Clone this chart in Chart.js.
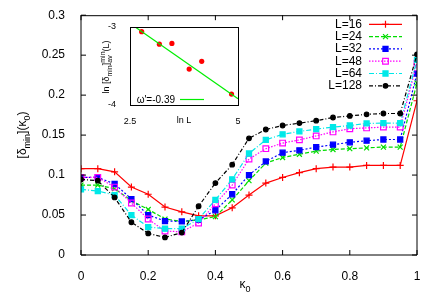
<!DOCTYPE html>
<html><head><meta charset="utf-8">
<script src="https://cdn.jsdelivr.net/npm/chart.js@4/dist/chart.umd.min.js"></script>
<style>
html,body{margin:0;padding:0;background:#fff;}
#wrap{position:relative;width:436px;height:306px;overflow:hidden;}
#main{position:absolute;left:0;top:0;}
#inset{position:absolute;left:90px;top:15px;}
</style>
</head><body>
<div id="wrap"><canvas id="main" width="436" height="306"></canvas><canvas id="inset" width="160" height="115"></canvas></div>
<script>
// ---- data ----
const kappa = [0,0.05,0.1,0.15,0.2,0.25,0.3,0.35,0.4,0.45,0.5,0.55,0.6,0.65,0.7,0.75,0.8,0.85,0.9,0.95,1.0];
const seriesNames = ['L=16','L=24','L=32','L=48','L=64','L=128'];
const L16  = [0.108,0.108,0.104,0.085,0.076,0.060,0.054,0.049,0.049,0.059,0.075,0.090,0.097,0.103,0.108,0.110,0.110,0.112,0.112,0.112,0.193];
const L24  = [0.0875,0.0875,0.083,0.068,0.057,0.045,0.042,0.044,0.048,0.069,0.093,0.115,0.122,0.126,0.130,0.132,0.133,0.134,0.135,0.135,0.215];
const L32  = [0.097,0.097,0.089,0.070,0.050,0.0425,0.042,0.044,0.056,0.076,0.100,0.117,0.128,0.131,0.135,0.138,0.141,0.143,0.1445,0.1445,0.227];
const L48  = [0.097,0.097,0.085,0.065,0.045,0.030,0.029,0.040,0.064,0.0875,0.120,0.133,0.140,0.144,0.149,0.154,0.158,0.159,0.160,0.160,0.240];
const L64  = [0.082,0.080,0.075,0.050,0.035,0.033,0.033,0.045,0.069,0.0946,0.127,0.144,0.151,0.1546,0.1575,0.160,0.162,0.1646,0.165,0.165,0.244];
const L128 = [0.0946,0.093,0.072,0.041,0.027,0.022,0.028,0.061,0.090,0.113,0.146,0.157,0.162,0.165,0.168,0.172,0.174,0.176,0.177,0.177,0.251];
const xTicks = [0,0.2,0.4,0.6,0.8,1];
const xTickLabels = ['0','0.2','0.4','0.6','0.8','1'];
const yTicks = [0,0.05,0.1,0.15,0.2,0.25,0.3];
const yTickLabels = ['0','0.05','0.1','0.15','0.2','0.25','0.3'];
// inset
const lnL = [2.77,3.18,3.47,3.87,4.16,4.85];
const lnDelta = [-3.06,-3.22,-3.21,-3.54,-3.44,-3.86];
const fitX = [2.62,5.0];
const fitY = [-3.0,-3.92];
const fitLabel = "ω'=-0.39";
const insetXTicks = [2.5,5];
const insetXTickLabels = ['2.5','5'];
const insetYTicks = [-4,-3];
const insetYTickLabels = ['-4','-3'];

// ---- helpers ----
const FONT = "'Liberation Sans', Arial, sans-serif";
Chart.defaults.font.family = FONT;
Chart.defaults.color = '#000';
function setFont(ctx,size){ctx.font = size+'px '+FONT;}
function drawRich(ctx, parts, cx, cy, base, small, subOff, supOff){
  ctx.textBaseline='alphabetic'; ctx.textAlign='left'; ctx.fillStyle='#000';
  const widths = parts.map(p=>{
    if(p.stack){setFont(ctx,small);return Math.max(ctx.measureText(p.sup).width, ctx.measureText(p.sub).width);}
    setFont(ctx,(p.sub||p.sup)?small:base); return ctx.measureText(p.t).width;});
  let x = cx - widths.reduce((a,b)=>a+b,0)/2;
  parts.forEach((p,i)=>{
    if(p.stack){setFont(ctx,small);ctx.fillText(p.sup,x,cy-supOff);ctx.fillText(p.sub,x,cy+subOff);}
    else{setFont(ctx,(p.sub||p.sup)?small:base);ctx.fillText(p.t,x,cy+(p.sub?subOff:(p.sup?-supOff:0)));}
    x+=widths[i];});
}
const drawPoint = (Chart.helpers && Chart.helpers.drawPoint) ? Chart.helpers.drawPoint : null;

const styles = [
  {c:'#ff0000', dash:[],           ps:'cross',    r:3.5, bg:'#ff0000'},
  {c:'#00dd00', dash:[4,2],        ps:'crossRot', r:3.5, bg:'#00dd00'},
  {c:'#0000ff', dash:[2,2],        ps:'rect',     r:3.6, bg:'#0000ff'},
  {c:'#ff00ff', dash:[1.5,1.5],    ps:'rect',     r:4.0, bg:'rgba(255,255,255,0)'},
  {c:'#00e8e8', dash:[5,2,1,2],    ps:'rect',     r:3.6, bg:'#00e8e8'},
  {c:'#000000', dash:[4,2,1,2],    ps:'circle',   r:2.3, bg:'#000000'}
];
const allSeries = [L16,L24,L32,L48,L64,L128];
const datasets = allSeries.map((arr,i)=>({
  label: seriesNames[i],
  data: kappa.map((k,j)=>({x:k,y:arr[j]})),
  borderColor: styles[i].c, borderDash: styles[i].dash, borderWidth: 1.2,
  pointStyle: styles[i].ps, pointRadius: styles[i].r, pointBorderColor: styles[i].c,
  pointBackgroundColor: styles[i].bg, pointBorderWidth: 1.2,
  fill:false, tension:0, order: 5-i
}));

const mainPlugin = {
  id:'mainDecor',
  afterDraw(chart){
    const ctx = chart.ctx, a = chart.chartArea;
    const xs = chart.scales.x, ys = chart.scales.y;
    ctx.save();
    // frame
    ctx.strokeStyle='#000'; ctx.lineWidth=1; ctx.setLineDash([]);
    ctx.beginPath();
    ctx.moveTo(a.left, a.top+0.5); ctx.lineTo(a.right, a.top+0.5);
    ctx.moveTo(a.right, a.top); ctx.lineTo(a.right, a.bottom);
    ctx.lineTo(a.left, a.bottom); ctx.lineTo(a.left, a.top);
    ctx.stroke();
    // inward ticks
    const tl=5;
    ctx.beginPath();
    xTicks.forEach(v=>{const px=xs.getPixelForValue(v);
      ctx.moveTo(px,a.bottom);ctx.lineTo(px,a.bottom-tl);ctx.moveTo(px,a.top);ctx.lineTo(px,a.top+tl);});
    yTicks.forEach(v=>{const py=ys.getPixelForValue(v);
      ctx.moveTo(a.left,py);ctx.lineTo(a.left+tl,py);ctx.moveTo(a.right,py);ctx.lineTo(a.right-tl,py);});
    ctx.stroke();
    // legend
    chart.data.datasets.forEach((ds,i)=>{
      const y = 24.3 + i*12.3;
      setFont(ctx,12); ctx.fillStyle='#000'; ctx.textAlign='right'; ctx.textBaseline='middle';
      ctx.fillText(ds.label, 362, y);
      ctx.strokeStyle=ds.borderColor; ctx.lineWidth=1.2; ctx.setLineDash(ds.borderDash);
      ctx.beginPath(); ctx.moveTo(369,y); ctx.lineTo(402,y); ctx.stroke();
      ctx.setLineDash([]);
      if(drawPoint){
        ctx.fillStyle=ds.pointBackgroundColor; ctx.strokeStyle=ds.pointBorderColor; ctx.lineWidth=ds.pointBorderWidth;
        drawPoint(ctx,{pointStyle:ds.pointStyle,radius:ds.pointRadius,rotation:0,borderWidth:ds.pointBorderWidth},385.5,y);
      }
    });
    // axis titles
    drawRich(ctx,[{t:'κ'},{t:'0',sub:true}],245,288,12,9,3.5,0);
    ctx.translate(26,135); ctx.rotate(-Math.PI/2);
    drawRich(ctx,[{t:'[δ'},{t:'min',sub:true},{t:'](κ'},{t:'0',sub:true},{t:')'}],0,0,12,9,3.5,0);
    ctx.restore();
  }
};

new Chart(document.getElementById('main'),{
  type:'line',
  data:{datasets},
  options:{
    responsive:false, animation:false, devicePixelRatio:1,
    layout:{padding:{top:15,right:19,left:0,bottom:0}},
    plugins:{legend:{display:false},tooltip:{enabled:false}},
    scales:{
      x:{type:'linear',min:0,max:1,
        afterBuildTicks:s=>{s.ticks=xTicks.map(v=>({value:v}));},
        afterFit:s=>{s.height=51;},
        grid:{display:false},border:{display:false},
        ticks:{padding:6,font:{size:12},color:'#000',maxRotation:0,
          callback:(v)=>{const i=xTicks.indexOf(v);return i>=0?xTickLabels[i]:'';}}},
      y:{type:'linear',min:0,max:0.3,
        afterBuildTicks:s=>{s.ticks=yTicks.map(v=>({value:v}));},
        afterFit:s=>{s.width=81;},
        grid:{display:false},border:{display:false},
        ticks:{padding:8,font:{size:12},color:'#000',
          callback:(v)=>{const i=yTicks.indexOf(v);return i>=0?yTickLabels[i]:'';}}}
    }
  },
  plugins:[mainPlugin]
});

// ---- inset ----
const insetPlugin = {
  id:'insetDecor',
  beforeDatasetsDraw(chart){
    const ctx=chart.ctx,a=chart.chartArea;
    ctx.save();ctx.fillStyle='#fff';ctx.fillRect(a.left,a.top,a.right-a.left,a.bottom-a.top);ctx.restore();
  },
  afterDraw(chart){
    const ctx=chart.ctx,a=chart.chartArea;
    ctx.save();
    ctx.strokeStyle='#000';ctx.lineWidth=1;ctx.setLineDash([]);
    ctx.strokeRect(a.left+0.5,a.top+0.5,a.right-a.left,a.bottom-a.top);
    // legend
    setFont(ctx,10);ctx.fillStyle='#000';ctx.textAlign='right';ctx.textBaseline='middle';
    ctx.fillText(fitLabel,85,85);
    ctx.strokeStyle='#00ee00';ctx.lineWidth=1.2;
    ctx.beginPath();ctx.moveTo(90,84.5);ctx.lineTo(114,84.5);ctx.stroke();
    // titles
    drawRich(ctx,[{t:'ln L'}],94,108,9,9,0,0);
    ctx.translate(19,52);ctx.rotate(-Math.PI/2);
    drawRich(ctx,[{t:'ln [δ'},{t:'min',sub:true},{t:']'},{stack:true,sup:'min',sub:'av'},{t:'(L)'}],0,0,9,7,2.5,4);
    ctx.restore();
  }
};
new Chart(document.getElementById('inset'),{
  type:'scatter',
  data:{datasets:[
    {type:'line',data:fitX.map((x,i)=>({x,y:fitY[i]})),borderColor:'#00ee00',borderWidth:1.2,pointRadius:0,fill:false,order:0},
    {type:'scatter',data:lnL.map((x,i)=>({x,y:lnDelta[i]})),pointRadius:2.6,pointBackgroundColor:'#ff0000',pointBorderColor:'#ff0000',pointBorderWidth:0,order:1}
  ]},
  options:{
    responsive:false,animation:false,devicePixelRatio:1,
    layout:{padding:{top:12,right:12,left:0,bottom:0}},
    plugins:{legend:{display:false},tooltip:{enabled:false}},
    scales:{
      x:{type:'linear',min:2.5,max:5,
        afterBuildTicks:s=>{s.ticks=insetXTicks.map(v=>({value:v}));},
        afterFit:s=>{s.height=25;},
        grid:{display:false},border:{display:false},
        ticks:{padding:3,font:{size:9},color:'#000',maxRotation:0,
          callback:(v)=>{const i=insetXTicks.indexOf(v);return i>=0?insetXTickLabels[i]:'';}}},
      y:{type:'linear',min:-4,max:-3,
        afterBuildTicks:s=>{s.ticks=insetYTicks.map(v=>({value:v}));},
        afterFit:s=>{s.width=40;},
        grid:{display:false},border:{display:false},
        ticks:{padding:6,font:{size:9},color:'#000',
          callback:(v)=>{const i=insetYTicks.indexOf(v);return i>=0?insetYTickLabels[i]:'';}}}
    }
  },
  plugins:[insetPlugin]
});
</script>
</body></html>
